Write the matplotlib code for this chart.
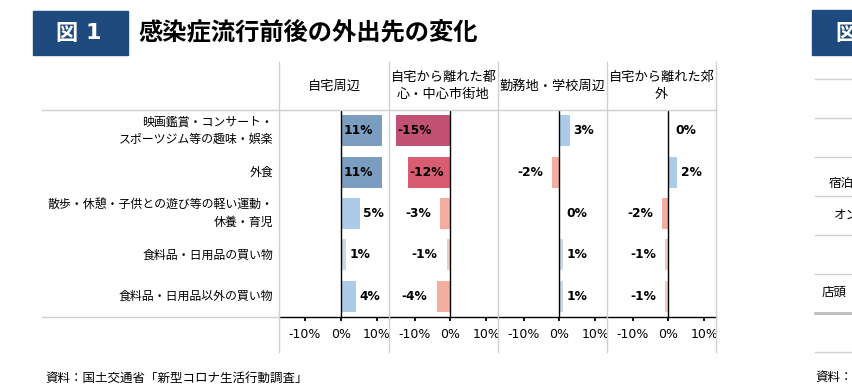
import matplotlib
matplotlib.use("Agg")
import matplotlib.pyplot as plt
from matplotlib.patches import Rectangle
from matplotlib.lines import Line2D

plt.rcParams['font.family'] = ['Noto Sans CJK JP', 'DejaVu Sans']

# data
categories = [
    "映画鑑賞・コンサート・\nスポーツジム等の趣味・娯楽",
    "外食",
    "散歩・休憩・子供との遊び等の軽い運動・\n休養・育児",
    "食料品・日用品の買い物",
    "食料品・日用品以外の買い物",
]
panel_titles = ["自宅周辺", "自宅から離れた都\n心・中心市街地", "勤務地・学校周辺", "自宅から離れた郊\n外"]
near_home = [11.4, 11.3, 5.2, 1.3, 4.2]
downtown = [-15.3, -11.9, -2.8, -1.1, -3.9]
work_school = [3.0, -2.0, 0.0, 1.0, 1.0]
suburbs = [0.0, 2.4, -1.8, -0.9, -0.9]
series = [near_home, downtown, work_school, suburbs]
tick_vals = [-10, 0, 10]
tick_labels = ["-10%", "0%", "10%"]

W, H = 853, 389
NUM_FONT = "DejaVu Sans"


def fx(x):
    return x / W


def fy(y):
    return 1 - y / H


def bar_color(v):
    if v >= 8:
        return "#7b9dc0"
    if v >= 2:
        return "#accbe6"
    if v > 0:
        return "#cbd9e7"
    if v <= -14:
        return "#c35173"
    if v <= -8:
        return "#d95d70"
    if v <= -1.5:
        return "#f5ad9f"
    return "#f2cdc5"


fig = plt.figure(figsize=(W / 100, H / 100), dpi=100)

# title block
fig.patches.append(Rectangle((fx(33), fy(55)), fx(95), 44 / H, transform=fig.transFigure,
                             color="#1f4a7e", zorder=0))
fig.text(fx(55), fy(33), "図", color="white", fontsize=16, weight="bold", va="center")
fig.text(fx(86), fy(33), "1", color="white", fontsize=16, weight="bold", va="center",
         family="DejaVu Sans")
fig.text(fx(138), fy(33), "感染症流行前後の外出先の変化", fontsize=17.5, weight="bold", va="center")

# table grid
grid = "#d0d0d0"
edges = [279, 389, 498, 607, 716]
for x in edges:
    fig.add_artist(Line2D([fx(x), fx(x)], [fy(62), fy(352)], color=grid, lw=1))
fig.add_artist(Line2D([fx(42), fx(716)], [fy(110), fy(110)], color=grid, lw=1))
fig.add_artist(Line2D([fx(42), fx(279)], [fy(317), fy(317)], color=grid, lw=1))

# category labels
row_h = (317 - 110) / 5
for i, c in enumerate(categories):
    fig.text(fx(273), fy(110 + row_h * (i + 0.5)), c, ha="right", va="center",
             fontsize=8.6, linespacing=1.5)

for p in range(4):
    left, right = edges[p], edges[p + 1]
    ax = fig.add_axes([fx(left), fy(317), fx(right - left), (317 - 110) / H])
    vals = series[p]
    ys = range(len(vals))
    ax.barh(ys, vals, height=0.75, color=[bar_color(v) for v in vals], zorder=2)
    ax.axvline(0, color="black", lw=1, zorder=3)
    ax.set_xlim(-17.2, 13.3)
    ax.set_ylim(4.5, -0.5)
    ax.set_yticks([])
    ax.set_xticks(tick_vals)
    ax.set_xticklabels(tick_labels, family=NUM_FONT)
    ax.tick_params(axis="x", direction="out", length=3, width=1.3, pad=5, labelsize=9)
    for s in ["left", "right", "top"]:
        ax.spines[s].set_visible(False)
    ax.spines["bottom"].set_linewidth(1)
    ax.patch.set_alpha(0)

    for y, v in zip(ys, vals):
        lab = f"{round(v):d}%"
        if v > 8:
            x0, dx, ha = 0, 1.5, "left"
        elif v > 0:
            x0, dx, ha = v, 2.5, "left"
        elif v == 0:
            x0, dx, ha = 0, 5, "left"
        elif v < -8:
            x0, dx, ha = v, 1, "left"
        else:
            x0, dx, ha = v, -6.5, "right"
        ax.annotate(lab, (x0, y), xytext=(dx, 0), textcoords="offset points",
                    ha=ha, va="center", fontsize=8.8, weight="bold", family=NUM_FONT, zorder=4)

    fig.text(fx((left + right) / 2), fy(86), panel_titles[p], ha="center", va="center",
             fontsize=9.5, linespacing=1.45)

fig.text(fx(45), fy(378), "資料：国土交通省「新型コロナ生活行動調査」", fontsize=9, va="center")

# edge of the next figure, cut off by the frame
fig.patches.append(Rectangle((fx(812), fy(55)), fx(60), 45 / H, transform=fig.transFigure,
                             color="#1f4a7e", zorder=0))
fig.text(fx(835), fy(33), "図", color="white", fontsize=16, weight="bold", va="center")
for y in [79, 118, 157, 196, 235, 274, 352]:
    fig.add_artist(Line2D([fx(815), 1], [fy(y), fy(y)], color=grid, lw=1))
fig.add_artist(Line2D([fx(815), 1], [fy(313), fy(313)], color="#bbbbbb", lw=2))
fig.text(fx(829), fy(183), "宿泊", fontsize=9, va="center")
fig.text(fx(834), fy(215), "オン", fontsize=9, va="center")
fig.text(fx(822), fy(292), "店頭", fontsize=9, va="center")
fig.text(fx(815), fy(377), "資料：", fontsize=9, va="center")

fig.savefig("out.png", dpi=100)
